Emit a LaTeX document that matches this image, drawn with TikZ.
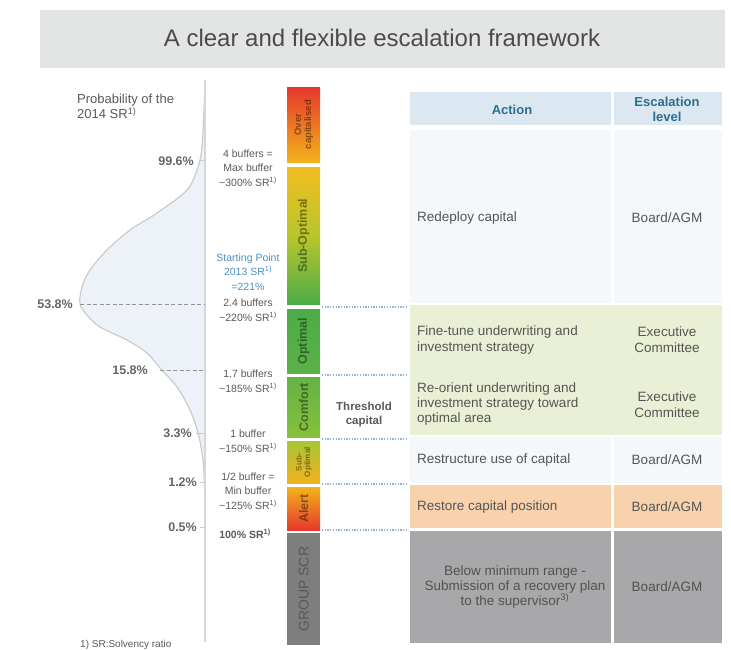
\documentclass[tikz,border=0pt]{standalone}
\usepackage{fontspec}
\setmainfont{Liberation Sans}
\definecolor{titlebg}{HTML}{E3E4E4}
\definecolor{titletext}{HTML}{4B4B4B}
\definecolor{txtgray}{HTML}{595959}
\definecolor{pctgray}{HTML}{666666}
\definecolor{startblue}{HTML}{4A90C2}
\definecolor{distfill}{HTML}{EDF2F8}
\definecolor{distline}{HTML}{C9CBCE}
\definecolor{axisline}{HTML}{D5D7DA}
\definecolor{dotblue}{HTML}{8DB3D5}
\definecolor{hdrbg}{HTML}{DCE8F1}
\definecolor{hdrtext}{HTML}{2E6D8E}
\definecolor{rowbg}{HTML}{F5F8FB}
\definecolor{greenbg}{HTML}{E9F0D5}
\definecolor{peachbg}{HTML}{F8D2AD}
\definecolor{grayrow}{HTML}{A8A8AA}
\definecolor{grayseg}{HTML}{7E7E7E}
\definecolor{celltext}{HTML}{555555}
\definecolor{cRed}{HTML}{E5392B}
\definecolor{cOrange}{HTML}{F3B21D}
\definecolor{cYellow}{HTML}{F1BE20}
\definecolor{cLime}{HTML}{B9C52C}
\definecolor{cGreen}{HTML}{4DAC48}
\definecolor{cGreenB}{HTML}{5BB048}
\definecolor{cGreenC}{HTML}{64B246}
\definecolor{cGreenD}{HTML}{87C03D}
\definecolor{cYG}{HTML}{A8C537}
\begin{document}
\begin{tikzpicture}[x=1pt,y=-1pt,
  lbl/.style={font=\fontsize{10.5}{14.5}\selectfont, text=txtgray, align=center, inner sep=0},
  pct/.style={font=\bfseries\fontsize{12.5}{14}\selectfont, text=pctgray, inner sep=0, anchor=east},
  tickline/.style={draw=distline, line width=1pt},
  dashline/.style={draw=pctgray!70, line width=0.9pt, dash pattern=on 4pt off 2.5pt},
  dotline/.style={draw=dotblue, line width=1.3pt, dash pattern=on 1.3pt off 1.4pt},
  seg/.style={inner sep=0, anchor=north west, minimum width=33pt, draw=none},
  barlbl/.style={rotate=90, align=center, inner sep=0, text=black, text opacity=0.42,
    font=\bfseries\fontsize{12.5}{13}\selectfont},
  cellbox/.style={inner sep=0, anchor=north west, draw=none},
  celltxt/.style={font=\fontsize{13.5}{16}\selectfont, text=celltext, inner sep=0},
  hdrtxt/.style={font=\bfseries\fontsize{13}{15}\selectfont, text=hdrtext, align=center, inner sep=0}
]
\useasboundingbox (0,0) rectangle (731,650);

% title
\node[cellbox, fill=titlebg, minimum width=685pt, minimum height=58pt] (titleband) at (40,10) {};
\node[font=\fontsize{24}{28}\selectfont, text=titletext, inner sep=0] (title) at (382,38) {A clear and flexible escalation framework};

% distribution
\draw[draw=distline, line width=1.2pt, fill=distfill] plot[smooth, tension=0.55] coordinates {
  (205,82) (204,110) (202,147) (198,167) (187,190) (157,213) (130,230) (107,250) (90,270)
  (82,287) (80,304) (87,315) (100,327) (127,340) (147,353) (160,368) (177,387) (190,410)
  (198,433) (203,460) (204.5,490) (205,530)} -- cycle;
\coordinate (axtop) at (205,80);
\coordinate (axbot) at (205,642);
\draw[draw=axisline, line width=1.3pt] (axtop) -- (axbot);

\node[font=\fontsize{13}{15}\selectfont, text=txtgray, align=left, inner sep=0, anchor=north west] (prob) at (77,94) {Probability of the\\2014 SR\textsuperscript{1)}};

% percentages
\node[pct] (p996) at (194,161) {99.6\%};
\coordinate (a996) at (205,161);
\draw[tickline] ([xshift=5pt]p996.east) -- (a996);
\node[pct] (p538) at (73,304) {53.8\%};
\coordinate (a538) at (205,304);
\draw[dashline] ([xshift=7pt]p538.east) -- (a538);
\node[pct] (p158) at (148,370) {15.8\%};
\coordinate (a158) at (205,370);
\draw[dashline] ([xshift=12pt]p158.east) -- (a158);
\node[pct] (p33) at (192,433) {3.3\%};
\coordinate (a33) at (205,433);
\draw[tickline] ([xshift=4pt]p33.east) -- (a33);
\node[pct] (p12) at (197,482) {1.2\%};
\coordinate (a12) at (205,482);
\draw[tickline] ([xshift=3pt]p12.east) -- (a12);
\node[pct] (p05) at (197,527) {0.5\%};
\coordinate (a05) at (205,527);
\draw[tickline] ([xshift=3pt]p05.east) -- (a05);

% buffer labels
\node[lbl] (b4) at (248,168) {4 buffers =\\Max buffer\\\textasciitilde300\% SR\textsuperscript{1)}};
\node[lbl, text=startblue] (start) at (248,272) {Starting Point\\2013 SR\textsuperscript{1)}\\=221\%};
\node[lbl] (b24) at (248,310) {2.4 buffers\\\textasciitilde220\% SR\textsuperscript{1)}};
\node[lbl] (b17) at (248,381) {1.7 buffers\\\textasciitilde185\% SR\textsuperscript{1)}};
\node[lbl] (b1) at (248,441) {1 buffer\\\textasciitilde150\% SR\textsuperscript{1)}};
\node[lbl] (bhalf) at (248,491) {1/2 buffer =\\Min buffer\\\textasciitilde125\% SR\textsuperscript{1)}};
\node[lbl, font=\bfseries\fontsize{10.5}{14.5}\selectfont] (b100) at (245,534) {100\% SR\textsuperscript{1)}};

% colour bar
\node[seg, top color=cRed, bottom color=cOrange, minimum height=75pt] (sOver) at (287,87) {};
\node[seg, top color=cYellow, bottom color=cGreen, middle color=cLime, minimum height=137pt] (sSub) at (287,167) {};
\node[seg, top color=cGreen, bottom color=cGreenB, minimum height=64pt] (sOpt) at (287,309) {};
\node[seg, top color=cGreenC, bottom color=cGreenD, minimum height=60pt] (sCom) at (287,377) {};
\node[seg, top color=cYG, bottom color=cOrange, minimum height=42pt] (sSub2) at (287,441) {};
\node[seg, top color=cOrange, bottom color=cRed, minimum height=43pt] (sAlert) at (287,487) {};
\node[seg, fill=grayseg, minimum height=112pt] (sGroup) at (287,533) {};

\node[barlbl, font=\bfseries\fontsize{9.5}{10}\selectfont] (lOver) at (sOver) {Over\\capitalised};
\node[barlbl] (lSub) at (sSub) {Sub-Optimal};
\node[barlbl] (lOpt) at (sOpt) {Optimal};
\node[barlbl] (lCom) at (sCom) {Comfort};
\node[barlbl, font=\bfseries\fontsize{8}{8.5}\selectfont] (lSub2) at (sSub2) {Sub-\\Optimal};
\node[barlbl] (lAlert) at (sAlert) {Alert};
\node[barlbl, font=\fontsize{14}{15}\selectfont, text opacity=0.3] (lGroup) at (sGroup) {GROUP SCR};

\node[font=\bfseries\fontsize{11.5}{14}\selectfont, text=txtgray, align=center, inner sep=0] (thr) at (364,415) {Threshold\\capital};

% table
\node[cellbox, fill=hdrbg, minimum width=201pt, minimum height=33pt] (hA) at (410,92) {};
\node[cellbox, fill=hdrbg, minimum width=108pt, minimum height=33pt] (hE) at (614,92) {};
\node[cellbox, fill=rowbg, minimum width=201pt, minimum height=173pt] (r1A) at (410,130) {};
\node[cellbox, fill=rowbg, minimum width=108pt, minimum height=173pt] (r1E) at (614,130) {};
\node[cellbox, fill=greenbg, minimum width=312pt, minimum height=130pt] (rG) at (410,305) {};
\node[cellbox, fill=rowbg, minimum width=201pt, minimum height=46pt] (r4A) at (410,437) {};
\node[cellbox, fill=rowbg, minimum width=108pt, minimum height=46pt] (r4E) at (614,437) {};
\node[cellbox, fill=peachbg, minimum width=201pt, minimum height=43pt] (r5A) at (410,485) {};
\node[cellbox, fill=peachbg, minimum width=108pt, minimum height=43pt] (r5E) at (614,485) {};
\node[cellbox, fill=grayrow, minimum width=201pt, minimum height=112pt] (r6A) at (410,531) {};
\node[cellbox, fill=grayrow, minimum width=108pt, minimum height=112pt] (r6E) at (614,531) {};

\node[hdrtxt] (tAction) at (512,110) {Action};
\node[hdrtxt] (tEsc) at (667,109) {Escalation\\level};

\node[celltxt, anchor=west] (t1) at (417,218) {Redeploy capital};
\node[celltxt] (e1) at (667,218) {Board/AGM};
\node[celltxt, anchor=west, align=left] (t2) at (417,340) {Fine-tune underwriting and\\investment strategy};
\node[celltxt, align=center] (e2) at (667,340) {Executive\\Committee};
\node[celltxt, anchor=west, align=left, font=\fontsize{13.5}{15}\selectfont] (t3) at (417,404) {Re-orient underwriting and\\investment strategy toward\\optimal area};
\node[celltxt, align=center] (e3) at (667,405) {Executive\\Committee};
\node[celltxt, anchor=west] (t4) at (417,460) {Restructure use of capital};
\node[celltxt] (e4) at (667,460) {Board/AGM};
\node[celltxt, anchor=west] (t5) at (417,507) {Restore capital position};
\node[celltxt] (e5) at (667,507) {Board/AGM};
\node[celltxt, align=center, font=\fontsize{13.5}{15}\selectfont, text=black!68] (t6) at (515,587) {Below minimum range -\\Submission of a recovery plan\\to the supervisor\textsuperscript{3)}};
\node[celltxt, text=black!68] (e6) at (667,587) {Board/AGM};

% dotted guide lines
\coordinate (d1L) at (322,307); \coordinate (d1R) at (408,307);
\coordinate (d2L) at (322,375); \coordinate (d2R) at (408,375);
\coordinate (d3L) at (322,439); \coordinate (d3R) at (408,439);
\coordinate (d4L) at (322,484); \coordinate (d4R) at (408,484);
\coordinate (d5L) at (322,530); \coordinate (d5R) at (408,530);
\draw[dotline] (d1L) -- (d1R);
\draw[dotline] (d2L) -- (d2R);
\draw[dotline] (d3L) -- (d3R);
\draw[dotline] (d4L) -- (d4R);
\draw[dotline] (d5L) -- (d5R);

% footnote
\node[font=\fontsize{10}{12}\selectfont, text=txtgray, inner sep=0, anchor=base west] (foot) at (80,647) {1) SR:Solvency ratio};
\end{tikzpicture}
\end{document}
